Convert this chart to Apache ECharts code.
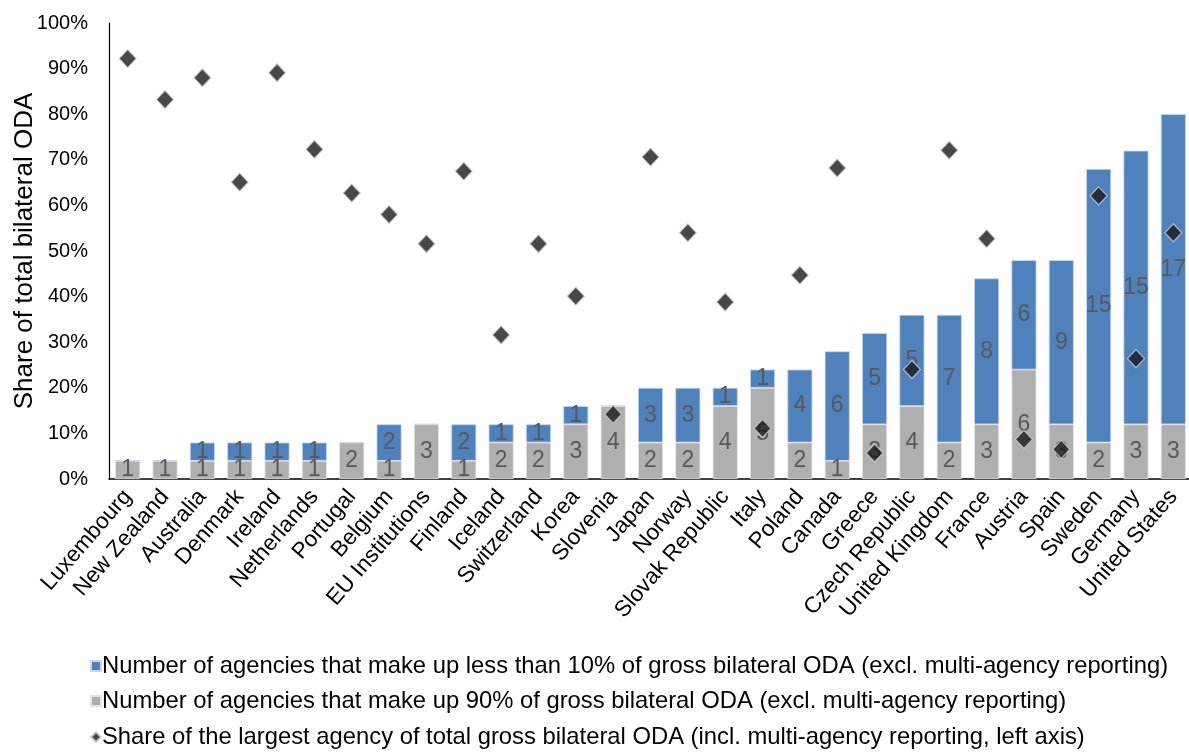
<!DOCTYPE html>
<html>
<head>
<meta charset="utf-8">
<script src="https://cdn.jsdelivr.net/npm/echarts@6/dist/echarts.min.js"></script>
<style>
  html, body { margin: 0; padding: 0; background: #fff; }
  #chart { width: 1189px; height: 752px; }
</style>
</head>
<body>
<div id="chart"></div>
<script>
// Members / institutions, ordered by total number of agencies
const categories = [
  'Luxembourg', 'New Zealand', 'Australia', 'Denmark', 'Ireland', 'Netherlands',
  'Portugal', 'Belgium', 'EU Institutions', 'Finland', 'Iceland', 'Switzerland',
  'Korea', 'Slovenia', 'Japan', 'Norway', 'Slovak Republic', 'Italy', 'Poland',
  'Canada', 'Greece', 'Czech Republic', 'United Kingdom', 'France', 'Austria',
  'Spain', 'Sweden', 'Germany', 'United States'
];

// Number of agencies making up 90% of gross bilateral ODA
const agencies90 = [1, 1, 1, 1, 1, 1, 2, 1, 3, 1, 2, 2, 3, 4, 2, 2, 4, 5, 2, 1, 3, 4, 2, 3, 6, 3, 2, 3, 3];

// Number of agencies making up less than 10% of gross bilateral ODA
const agenciesLess10 = [0, 0, 1, 1, 1, 1, 0, 2, 0, 2, 1, 1, 1, 0, 3, 3, 1, 1, 4, 6, 5, 5, 7, 8, 6, 9, 15, 15, 17];

// Share of the largest agency in total gross bilateral ODA (%)
const largestShare = [92.2, 83.2, 88, 65.1, 89.1, 72.3, 62.7, 58, 51.6, 67.5, 31.6, 51.6,
  40.1, 14.2, 70.6, 54, 38.8, 11.1, 44.7, 68.2, 5.7, 24, 72.1, 52.7, 8.7, 6.5, 62.1, 26.4, 54];

const yTicks = [0, 10, 20, 30, 40, 50, 60, 70, 80, 90, 100];

const seriesNames = [
  'Number of agencies that make up less than 10% of gross bilateral ODA (excl. multi-agency reporting)',
  'Number of agencies that make up 90% of gross bilateral ODA (excl. multi-agency reporting)',
  'Share of the largest agency of total gross bilateral ODA (incl. multi-agency reporting, left axis)'
];

const FONT = '"Liberation Sans", Arial, sans-serif';
const BLUE = '#4f81bd';
const GREY = '#afafaf';

const chart = echarts.init(document.getElementById('chart'), null, { renderer: 'canvas' });

const barLabel = {
  show: true,
  position: 'inside',
  fontFamily: FONT,
  fontSize: 23,
  color: '#595959',
  formatter: p => (p.value ? String(p.value) : '')
};

// One legend row per series, stacked under the plot
const legendTops = [649, 684, 720];
const legendIcons = ['rect', 'rect', 'diamond'];
const legends = seriesNames.map((name, i) => ({
  orient: 'vertical',
  left: 85,
  top: legendTops[i],
  itemWidth: 10,
  itemHeight: 10,
  textStyle: { fontFamily: FONT, fontSize: 23.8, color: '#000', padding: [0, 0, 0, -4] },
  data: [{ name, icon: legendIcons[i] }]
}));

chart.setOption({
  animation: false,
  textStyle: { fontFamily: FONT },
  grid: { left: 109, right: -3, top: 23, bottom: 273, containLabel: false, outerBoundsMode: 'none' },
  legend: legends,
  xAxis: {
    type: 'category',
    data: categories,
    axisLine: { show: true, lineStyle: { color: '#000', width: 1.5 } },
    axisTick: { show: false },
    axisLabel: {
      interval: 0,
      rotate: 49,
      margin: 14,
      fontFamily: FONT,
      fontSize: 22.5,
      color: '#000'
    }
  },
  yAxis: [
    {
      type: 'value',
      min: 0,
      max: 100,
      interval: 10,
      name: 'Share of total bilateral ODA',
      nameLocation: 'middle',
      nameGap: 71,
      nameMoveOverlap: false,
      nameTextStyle: { fontFamily: FONT, fontSize: 26, color: '#000' },
      axisLine: { show: true, lineStyle: { color: '#000', width: 1.2 } },
      axisTick: { show: false },
      splitLine: { show: false },
      axisLabel: {
        margin: 21,
        fontFamily: FONT,
        fontSize: 20,
        color: '#000',
        formatter: v => (yTicks.includes(v) ? v + '%' : '')
      }
    },
    {
      type: 'value',
      min: 0,
      max: 25,
      show: false,
      splitLine: { show: false }
    }
  ],
  series: [
    {
      name: seriesNames[1],
      type: 'bar',
      stack: 'agencies',
      yAxisIndex: 1,
      barWidth: '67%',
      data: agencies90,
      itemStyle: { color: GREY, borderColor: '#e4e4e4', borderWidth: 0.8 },
      label: barLabel,
      z: 2
    },
    {
      name: seriesNames[0],
      type: 'bar',
      stack: 'agencies',
      yAxisIndex: 1,
      barWidth: '67%',
      data: agenciesLess10,
      itemStyle: { color: BLUE, borderColor: '#c9d6ea', borderWidth: 0.8 },
      label: barLabel,
      z: 2
    },
    {
      name: seriesNames[2],
      type: 'scatter',
      yAxisIndex: 0,
      symbol: 'diamond',
      symbolSize: [17, 18],
      data: largestShare,
      itemStyle: { color: '#1a1a1a', borderColor: '#d0d0d0', borderWidth: 1.2 },
      z: 5
    }
  ]
});
</script>
</body>
</html>
